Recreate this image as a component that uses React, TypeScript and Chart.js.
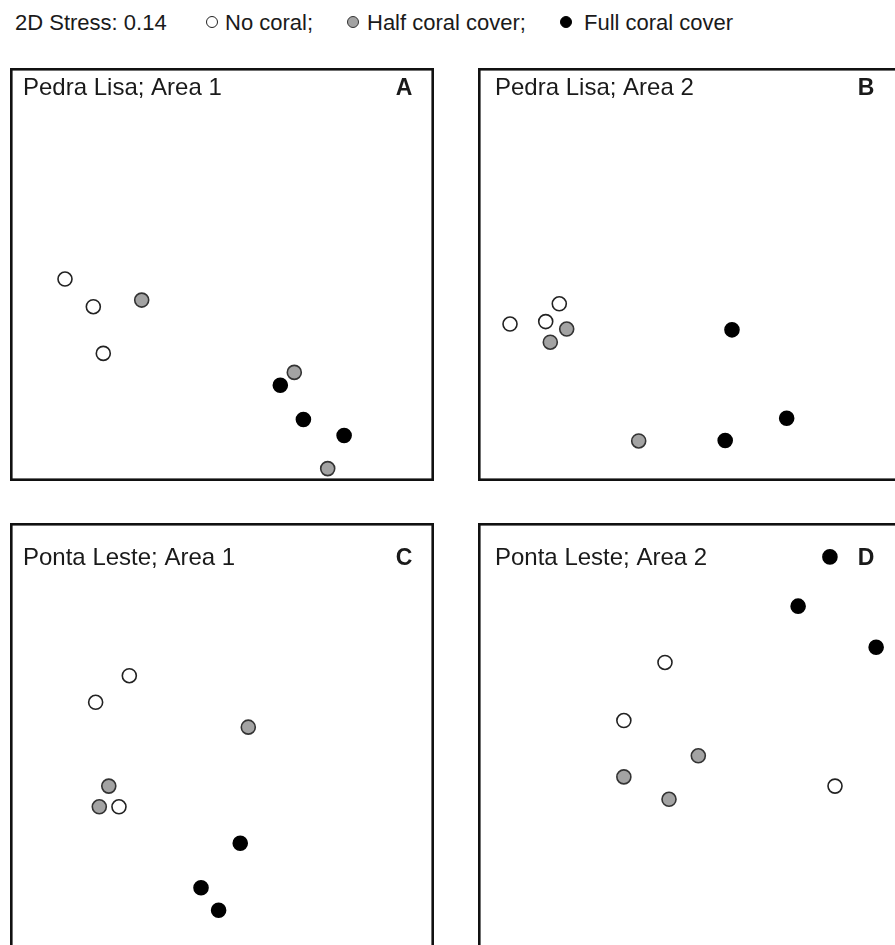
import React, { useEffect, useRef } from "react";
import { Chart, registerables } from "chart.js";

Chart.register(...registerables);

// ---- Data (NMDS ordination scores, arbitrary units 0-100 per panel) ----
const groupLabels = ["No coral", "Half coral cover", "Full coral cover"];
const stressLabel = "2D Stress: 0.14";
const panelTitles = ["Pedra Lisa; Area 1", "Pedra Lisa; Area 2", "Ponta Leste; Area 1", "Ponta Leste; Area 2"];
const panelLetters = ["A", "B", "C", "D"];

const aNone = [{ x: 12.97, y: 48.9 }, { x: 19.65, y: 42.2 }, { x: 22.0, y: 30.9 }];
const aHalf = [{ x: 31.06, y: 43.8 }, { x: 67.05, y: 26.3 }, { x: 74.93, y: 3.0 }];
const aFull = [{ x: 63.75, y: 23.2 }, { x: 69.2, y: 14.9 }, { x: 78.8, y: 11.0 }];

const bNone = [{ x: 7.55, y: 38.0 }, { x: 15.97, y: 38.6 }, { x: 19.17, y: 42.9 }];
const bHalf = [{ x: 20.92, y: 36.8 }, { x: 17.05, y: 33.6 }, { x: 37.9, y: 9.7 }];
const bFull = [{ x: 59.9, y: 36.6 }, { x: 72.8, y: 15.2 }, { x: 58.3, y: 9.8 }];

const cNone = [{ x: 28.14, y: 65.3 }, { x: 20.2, y: 59.25 }, { x: 25.7, y: 35.5 }];
const cHalf = [{ x: 56.2, y: 53.6 }, { x: 23.3, y: 40.2 }, { x: 21.06, y: 35.5 }];
const cFull = [{ x: 54.3, y: 27.2 }, { x: 45.05, y: 17.1 }, { x: 49.2, y: 12.0 }];

const dNone = [{ x: 44.1, y: 68.3 }, { x: 34.4, y: 55.1 }, { x: 84.2, y: 40.2 }];
const dHalf = [{ x: 51.96, y: 47.1 }, { x: 34.4, y: 42.3 }, { x: 45.05, y: 37.2 }];
const dFull = [{ x: 83.0, y: 92.3 }, { x: 75.5, y: 81.1 }, { x: 93.9, y: 71.75 }];

const panelData = [
  [aNone, aHalf, aFull],
  [bNone, bHalf, bFull],
  [cNone, cHalf, cFull],
  [dNone, dHalf, dFull],
];

// ---- Styles / layout ----
const FONT = '"Liberation Sans", Arial, Helvetica, sans-serif';
const fills = ["#ffffff", "#a3a3a3", "#000000"];
const borders = ["#222222", "#333333", "#000000"];

const layouts = [
  { left: 10, top: 68, w: 424, h: 413, titleX: 13, titleY: 27, letterX: 394 },
  { left: 478, top: 68, w: 424, h: 413, titleX: 17, titleY: 27, letterX: 388 },
  { left: 10, top: 523, w: 424, h: 440, titleX: 13, titleY: 42, letterX: 394 },
  { left: 478, top: 523, w: 424, h: 440, titleX: 17, titleY: 42, letterX: 388 },
];

function Panel({ idx }: { idx: number }) {
  const ref = useRef<HTMLCanvasElement | null>(null);
  const lay = layouts[idx];
  useEffect(() => {
    if (!ref.current) return;
    const framePlugin = {
      id: "frame" + idx,
      afterDraw(chart: any) {
        const ctx = chart.ctx;
        const a = chart.chartArea;
        ctx.save();
        ctx.strokeStyle = "#111";
        ctx.lineWidth = 2.6;
        ctx.strokeRect(a.left + 1.3, a.top + 1.3, a.right - a.left - 2.6, a.bottom - a.top - 2.6);
        ctx.fillStyle = "#1a1a1a";
        ctx.textBaseline = "alphabetic";
        ctx.textAlign = "left";
        ctx.font = `24px ${FONT}`;
        ctx.fillText(panelTitles[idx], a.left + lay.titleX, a.top + lay.titleY);
        ctx.textAlign = "center";
        ctx.font = `bold 23px ${FONT}`;
        ctx.fillText(panelLetters[idx], a.left + lay.letterX, a.top + lay.titleY);
        ctx.restore();
      },
    };
    const chart = new Chart(ref.current, {
      type: "scatter",
      data: {
        datasets: panelData[idx].map((pts, g) => ({
          label: groupLabels[g],
          data: pts,
          backgroundColor: fills[g],
          borderColor: borders[g],
          borderWidth: 1.6,
          pointRadius: 7,
          pointHoverRadius: 7,
          clip: false as any,
        })),
      },
      options: {
        animation: false,
        responsive: false,
        layout: { padding: 0, autoPadding: false },
        plugins: { legend: { display: false }, tooltip: { enabled: false }, title: { display: false } },
        scales: {
          x: { type: "linear", min: 0, max: 100, display: false },
          y: { type: "linear", min: 0, max: 100, display: false },
        },
        events: [],
      },
      plugins: [framePlugin],
    });
    return () => chart.destroy();
  }, [idx]);
  return (
    <div style={{ position: "absolute", left: lay.left, top: lay.top, width: lay.w, height: lay.h }}>
      <canvas ref={ref} width={lay.w} height={lay.h} style={{ display: "block", width: lay.w, height: lay.h }} />
    </div>
  );
}

function Dot({ fill, border }: { fill: string; border: string }) {
  return (
    <span
      style={{
        display: "inline-block",
        width: 12,
        height: 12,
        borderRadius: "50%",
        background: fill,
        border: `1.8px solid ${border}`,
        boxSizing: "border-box",
      }}
    />
  );
}

export default function App() {
  const text: React.CSSProperties = {
    position: "absolute",
    top: 9,
    fontFamily: FONT,
    fontSize: 22,
    color: "#1a1a1a",
    whiteSpace: "nowrap",
    lineHeight: "28px",
  };
  const dot = (x: number): React.CSSProperties => ({ position: "absolute", left: x - 6, top: 16, lineHeight: 0 });
  return (
    <div style={{ position: "fixed", left: 0, top: 0, width: 895, height: 945, overflow: "hidden", background: "#fff" }}>
      <span style={{ ...text, left: 15 }}>{stressLabel}</span>
      <span style={dot(212)}><Dot fill={fills[0]} border={borders[0]} /></span>
      <span style={{ ...text, left: 225 }}>{groupLabels[0] + ";"}</span>
      <span style={dot(353)}><Dot fill={fills[1]} border={borders[1]} /></span>
      <span style={{ ...text, left: 367 }}>{groupLabels[1] + ";"}</span>
      <span style={dot(566)}><Dot fill={fills[2]} border={borders[2]} /></span>
      <span style={{ ...text, left: 584 }}>{groupLabels[2]}</span>
      {layouts.map((_, i) => (
        <Panel key={i} idx={i} />
      ))}
    </div>
  );
}
